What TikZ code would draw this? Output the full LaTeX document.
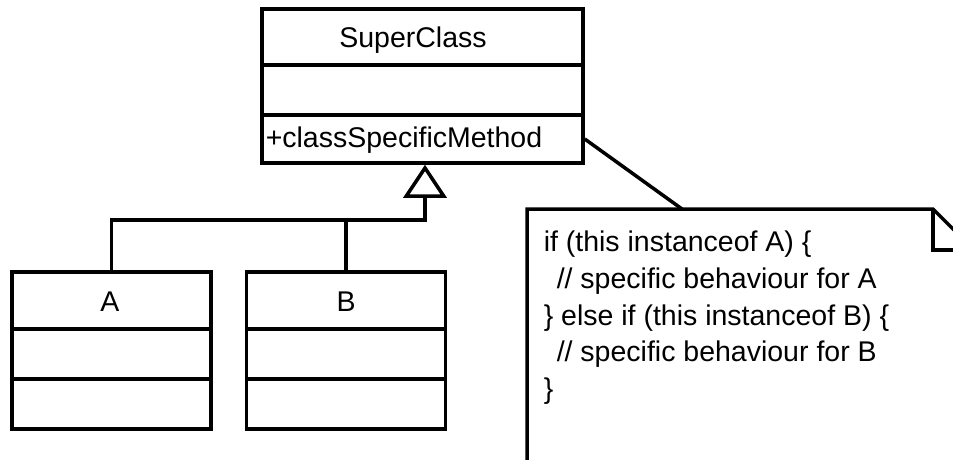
\documentclass[tikz,border=0pt]{standalone}
\usepackage{fontspec}
\setmainfont{Liberation Sans}
\usetikzlibrary{arrows.meta}
\begin{document}
\begin{tikzpicture}[x=1pt, y=-1pt, line width=3.5pt,
  every node/.style={font=\fontsize{28.5}{34}\selectfont},
  part/.style={draw, rectangle, inner sep=0pt, minimum width=#1},
  part/.default=199pt,
  txt/.style={inner sep=0pt},
  inherits/.style={-{Triangle[open, length=33pt, width=43pt]}}]
  \useasboundingbox (0,0) rectangle (953,459);
  \clip (0,0) rectangle (953,459);

  % SuperClass with its three compartments
  \node[part=321pt, minimum height=56pt] (sc1) at (422.5,37) {};
  \node[part=321pt, minimum height=50pt] (sc2) at (422.5,90) {};
  \node[part=321pt, minimum height=48pt] (sc3) at (422.5,139) {};
  \node[txt, anchor=base] (scname) at (413,47) {SuperClass};
  \node[txt, anchor=base west] (scmethod) at (264,147) {+classSpecificMethod};

  % class A
  \node[part, minimum height=57pt] (a1) at (111.5,300.5) {};
  \node[part, minimum height=50pt] (a2) at (111.5,354) {};
  \node[part, minimum height=50pt] (a3) at (111.5,404) {};
  \node[txt, anchor=base] (aname) at (110,311) {A};

  % class B
  \node[part, minimum height=57pt] (b1) at (346,300.5) {};
  \node[part, minimum height=50pt] (b2) at (346,354) {};
  \node[part, minimum height=50pt] (b3) at (346,404) {};
  \node[txt, anchor=base] (bname) at (346,311) {B};

  % generalization: both subclasses join below the hollow triangle
  \coordinate (join) at (425,220);
  \draw[inherits] (a1.north) |- (join) -- (join |- sc3.south);
  \draw (b1.north) -- (b1.north |- join);

  % note with folded corner (runs past the right and bottom edges)
  \coordinate (notetop) at (682,209);
  \draw (527,470) -- (527,209) -- (933,209) -- (974,250) -- (974,470);
  \draw (933,209) -- (933,250) -- (974,250);
  \node[txt, anchor=base west] (l1) at (542,251) {if (this instanceof A) \{};
  \node[txt, anchor=base west] (l2) at (555,288) {// specific behaviour for A};
  \node[txt, anchor=base west] (l3) at (542,325) {\} else if (this instanceof B) \{};
  \node[txt, anchor=base west] (l4) at (555,361) {// specific behaviour for B};
  \node[txt, anchor=base west] (l5) at (542,398) {\}};

  % note attached to the method compartment
  \draw (sc3.east) -- (notetop);
\end{tikzpicture}
\end{document}
